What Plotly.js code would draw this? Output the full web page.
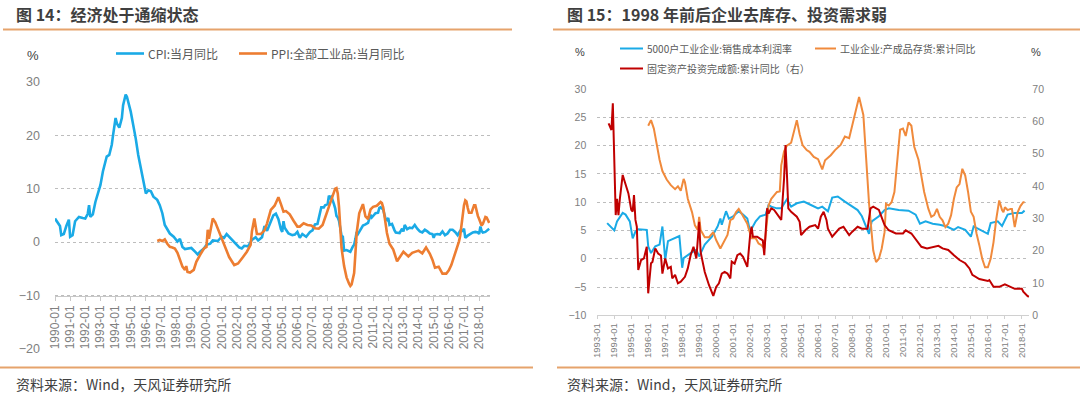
<!DOCTYPE html>
<html>
<head>
<meta charset="utf-8">
<script src="https://cdn.plot.ly/plotly-3.0.1.min.js"></script>
<style>
html,body{margin:0;padding:0;background:#fff;}
#chart{width:1080px;height:397px;}
</style>
</head>
<body>
<div id="chart"></div>
<script>
// ---------- Left chart: 图14 ----------
const cpiDates = ['1990-01','1990-03','1990-05','1990-06','1990-08','1990-10','1990-12','1991-01','1991-03','1991-05','1991-08','1991-11','1992-01','1992-03','1992-04','1992-05','1992-07','1992-09','1992-11','1993-01','1993-03','1993-05','1993-06','1993-08','1993-10','1993-11','1994-01','1994-02','1994-04','1994-06','1994-07','1994-09','1994-10','1995-01','1995-03','1995-04','1995-05','1995-07','1995-09','1995-11','1996-01','1996-03','1996-05','1996-07','1996-10','1996-12','1997-02','1997-04','1997-06','1997-08','1997-11','1998-02','1998-04','1998-06','1998-08','1998-11','1999-01','1999-04','1999-06','1999-08','1999-11','2000-01','2000-04','2000-06','2000-10','2001-01','2001-03','2001-05','2001-07','2001-10','2002-01','2002-03','2002-05','2002-07','2002-10','2003-01','2003-04','2003-06','2003-09','2003-11','2004-01','2004-04','2004-06','2004-08','2004-10','2004-12','2005-01','2005-02','2005-03','2005-06','2005-09','2005-11','2006-01','2006-03','2006-05','2006-08','2006-11','2007-01','2007-03','2007-05','2007-06','2007-07','2007-08','2007-10','2007-11','2008-01','2008-02','2008-03','2008-04','2008-06','2008-07','2008-08','2008-09','2008-10','2008-11','2008-12','2009-01','2009-02','2009-04','2009-06','2009-07','2009-09','2009-10','2009-11','2009-12','2010-01','2010-03','2010-05','2010-07','2010-09','2010-11','2010-12','2011-03','2011-05','2011-06','2011-07','2011-09','2011-11','2011-12','2012-01','2012-02','2012-04','2012-06','2012-07','2012-10','2012-12','2013-01','2013-02','2013-04','2013-06','2013-08','2013-10','2013-12','2014-02','2014-04','2014-06','2014-08','2014-10','2014-12','2015-01','2015-02','2015-04','2015-06','2015-08','2015-10','2015-12','2016-02','2016-04','2016-06','2016-08','2016-10','2016-12','2017-01','2017-02','2017-04','2017-06','2017-08','2017-10','2017-12','2018-01','2018-02','2018-03','2018-04','2018-06','2018-07','2018-08','2018-09'];
const cpiVals = [4.4,3.6,3.0,1.3,1.5,3.0,4.2,1.0,1.3,3.9,4.7,4.5,4.4,5.3,6.9,4.7,5.2,7.5,9.1,10.7,13.2,15.0,16.0,16.3,18.2,20.0,23.2,22.2,21.4,23.2,25.6,27.6,27.2,24.4,21.9,21.0,19.4,16.3,13.8,11.3,9.1,9.7,9.5,8.5,7.9,6.9,5.4,3.2,2.5,1.6,1.0,0.1,0.6,-0.9,-1.3,-1.2,-1.1,-1.8,-2.3,-1.8,-1.2,-0.5,-0.3,0.3,0.2,1.0,0.8,1.5,1.0,0.2,-0.5,-1.0,-1.2,-0.7,-0.8,0.4,0.9,0.3,0.9,3.0,2.1,3.8,5.0,5.3,4.3,2.4,1.9,3.9,2.7,1.6,1.3,1.4,1.9,0.8,1.5,1.0,1.9,2.2,3.3,3.4,4.4,5.6,6.5,6.5,6.9,7.1,8.7,8.3,8.5,7.1,6.3,4.9,4.6,4.0,2.4,1.2,1.0,-1.6,-1.5,-1.7,-1.8,-0.8,-0.5,0.6,1.9,1.5,2.4,3.1,3.3,3.6,5.1,4.6,5.4,5.5,6.4,6.5,6.1,4.2,4.1,4.5,3.2,3.4,2.2,1.8,1.7,2.5,2.0,3.2,2.4,2.7,2.6,3.2,2.5,2.0,1.8,2.3,2.0,1.6,1.5,0.8,1.4,1.5,1.4,2.0,1.3,1.6,2.3,2.3,1.9,1.3,2.1,2.1,2.5,0.8,1.2,1.5,1.8,1.9,1.8,1.5,2.9,2.1,1.8,1.9,2.1,2.3,2.5];

const ppiDates = ['1996-10','1996-12','1997-02','1997-04','1997-06','1997-08','1997-10','1997-12','1998-02','1998-04','1998-06','1998-08','1998-09','1998-10','1998-12','1999-03','1999-05','1999-08','1999-11','2000-01','2000-02','2000-03','2000-06','2000-08','2000-11','2001-03','2001-07','2001-11','2002-02','2002-06','2002-09','2002-12','2003-01','2003-03','2003-05','2003-08','2003-11','2004-01','2004-04','2004-07','2004-10','2004-12','2005-02','2005-04','2005-07','2005-10','2006-01','2006-03','2006-06','2006-09','2006-12','2007-03','2007-06','2007-09','2007-11','2008-01','2008-03','2008-05','2008-07','2008-08','2008-09','2008-10','2008-11','2008-12','2009-02','2009-04','2009-06','2009-07','2009-08','2009-09','2009-10','2009-11','2009-12','2010-02','2010-05','2010-07','2010-09','2010-11','2011-01','2011-04','2011-07','2011-08','2011-09','2011-10','2011-12','2012-02','2012-05','2012-08','2012-10','2013-01','2013-05','2013-08','2014-01','2014-04','2014-07','2014-10','2014-12','2015-02','2015-05','2015-08','2015-11','2016-01','2016-03','2016-05','2016-07','2016-09','2016-10','2016-11','2016-12','2017-01','2017-02','2017-03','2017-04','2017-05','2017-07','2017-08','2017-09','2017-10','2017-11','2017-12','2018-01','2018-02','2018-03','2018-04','2018-05','2018-06','2018-07','2018-08','2018-09'];
const ppiVals = [0.2,0.4,0.2,0.5,-0.3,-0.9,-1.0,-1.2,-2.0,-3.1,-4.6,-5.2,-4.5,-5.6,-5.7,-5.2,-3.7,-2.4,-1.2,-0.9,2.3,0.6,4.4,3.7,1.9,-0.4,-2.8,-4.3,-4.0,-2.8,-1.8,-0.5,2.0,4.4,1.5,1.5,2.2,3.5,6.0,6.8,8.4,7.1,5.7,5.8,5.2,4.0,2.9,2.9,3.5,3.2,3.1,2.6,2.5,3.2,4.6,6.1,7.5,8.8,10.0,10.1,9.1,6.6,2.0,-1.1,-4.5,-6.6,-7.8,-8.2,-7.9,-7.0,-5.8,-2.1,1.7,5.4,7.1,4.8,4.3,6.1,6.6,6.8,7.5,7.3,6.5,5.0,1.7,-0.3,-1.4,-3.6,-2.8,-1.8,-2.7,-2.0,-1.6,-2.1,-1.0,-2.2,-3.3,-4.8,-4.6,-5.9,-5.9,-5.3,-4.3,-2.8,-1.7,0.1,1.2,3.3,5.5,6.9,7.8,7.6,6.4,5.5,5.5,6.3,6.9,6.9,5.8,4.9,4.3,3.7,3.1,3.4,4.1,4.7,4.6,4.1,3.6];

// ---------- Right chart: 图15 ----------
const profitDates = ['1993-08','1993-11','1994-01','1994-03','1994-07','1994-09','1994-12','1995-02','1995-04','1995-06','1995-10','1995-12','1996-01','1996-03','1996-06','1996-09','1996-11','1997-01','1997-03','1997-07','1997-11','1998-01','1998-02','1998-07','1998-11','1999-01','1999-05','1999-10','2000-02','2000-04','2000-05','2000-08','2000-10','2001-01','2001-05','2001-08','2001-11','2002-01','2002-05','2002-08','2002-12','2003-02','2003-04','2003-08','2003-11','2004-03','2004-06','2004-10','2005-03','2005-08','2006-01','2006-04','2006-08','2006-11','2007-03','2007-08','2008-01','2008-05','2008-08','2008-12','2009-01','2009-03','2009-06','2009-08','2009-12','2010-03','2010-10','2011-05','2011-10','2012-01','2012-05','2012-10','2013-03','2013-08','2014-01','2014-04','2014-09','2015-01','2015-03','2015-08','2016-01','2016-03','2016-08','2016-11','2017-03','2017-08','2018-01','2018-03'];
const profitVals = [6.3,5.4,5.0,6.6,8.1,7.8,6.6,3.6,4.8,5.2,5.1,5.1,2.2,1.0,2.2,2.5,5.7,-0.2,3.1,3.6,4.0,-1.6,0.1,1.0,1.6,0.4,2.5,3.9,5.7,7.1,6.0,8.4,7.1,7.5,8.4,7.8,7.1,4.8,6.6,7.5,7.8,9.5,9.2,8.9,8.9,10.5,9.2,9.8,10.1,9.5,8.9,9.2,8.4,10.8,11.0,10.1,9.2,8.6,7.5,5.1,4.4,6.6,7.1,7.5,8.6,8.9,8.6,8.5,7.8,6.2,6.6,6.2,6.0,5.7,5.1,5.6,5.1,3.9,5.7,5.1,4.4,6.3,6.6,5.8,7.8,8.1,8.1,8.5];

const invDates = ['1996-01','1996-03','1996-05','1996-07','1996-09','1996-11','1997-02','1997-05','1997-08','1997-10','1997-12','1998-02','1998-03','1998-05','1998-08','1998-10','1998-12','1999-01','1999-02','1999-05','1999-08','1999-11','2000-01','2000-04','2000-06','2000-09','2000-11','2001-01','2001-03','2001-05','2001-07','2001-09','2001-11','2001-12','2002-02','2002-05','2002-07','2002-09','2002-11','2003-01','2003-02','2003-04','2003-08','2003-10','2003-11','2004-01','2004-03','2004-06','2004-08','2004-10','2004-12','2005-02','2005-05','2005-07','2005-10','2006-01','2006-04','2006-06','2006-10','2007-01','2007-05','2007-08','2007-11','2008-03','2008-06','2008-09','2008-11','2009-01','2009-04','2009-06','2009-08','2009-10','2009-12','2010-01','2010-03','2010-05','2010-07','2010-09','2010-11','2011-01','2011-03','2011-05','2011-07','2011-09','2011-12','2012-02','2012-04','2012-07','2012-09','2012-11','2013-01','2013-03','2013-05','2013-07','2013-09','2013-11','2014-01','2014-03','2014-05','2014-07','2014-09','2014-11','2015-01','2015-03','2015-05','2015-07','2015-09','2015-11','2016-01','2016-03','2016-05','2016-07','2016-09','2016-11','2016-12','2017-01','2017-03','2017-05','2017-06','2017-08','2017-10','2017-12','2018-02','2018-03','2018-04','2018-06'];
const invVals = [23.5,24.5,23.0,20.0,17.5,15.5,14.0,13.0,12.3,12.8,12.0,14.1,13.5,10.6,8.2,5.9,5.1,7.4,5.1,3.8,3.8,4.7,3.3,1.8,2.7,4.2,6.8,7.1,8.2,8.8,8.0,7.1,6.2,5.3,3.6,3.6,2.7,2.4,1.8,6.8,9.4,10.6,11.8,11.9,16.5,19.0,20.0,20.5,22.5,24.5,22.0,20.1,19.2,18.9,18.0,17.6,15.8,17.4,18.3,19.2,20.1,21.6,21.3,25.4,28.6,25.4,17.5,9.8,1.5,-0.6,0.0,1.8,4.7,9.7,9.4,10.0,11.8,17.0,22.8,23.0,21.7,24.1,23.5,19.8,17.5,14.6,11.8,8.8,7.4,7.7,8.8,7.4,6.8,5.6,6.2,7.7,10.6,12.6,13.2,15.9,14.7,11.8,8.3,7.4,4.5,2.4,0.0,-1.5,-1.5,0.0,2.9,7.1,10.3,8.6,8.2,9.1,8.6,8.8,8.8,5.6,8.2,9.3,10.0,10.0].slice(0);

const faiDates = ['1993-09','1993-10','1993-11','1993-12','1994-02','1994-03','1994-04','1994-05','1994-07','1994-08','1994-11','1995-01','1995-02','1995-03','1995-04','1995-05','1995-06','1995-08','1995-10','1995-12','1996-01','1996-03','1996-04','1996-06','1996-08','1996-10','1996-11','1997-01','1997-03','1997-05','1997-06','1997-08','1997-10','1997-12','1998-03','1998-05','1998-07','1998-09','1998-11','1999-01','1999-02','1999-03','1999-05','1999-08','1999-10','1999-11','2000-01','2000-03','2000-05','2000-07','2000-09','2000-11','2000-12','2001-02','2001-04','2001-06','2001-08','2001-11','2002-01','2002-02','2002-03','2002-06','2002-08','2002-10','2002-11','2003-01','2003-02','2003-04','2003-06','2003-09','2003-11','2004-01','2004-02','2004-03','2004-04','2004-06','2004-10','2004-12','2005-01','2005-04','2005-07','2005-11','2006-01','2006-03','2006-05','2006-07','2006-08','2006-11','2007-01','2007-04','2007-07','2007-11','2008-01','2008-05','2008-08','2008-12','2009-02','2009-04','2009-08','2009-12','2010-03','2010-08','2011-01','2011-03','2011-07','2011-11','2012-02','2012-06','2012-11','2013-02','2013-05','2013-09','2014-01','2014-05','2014-09','2014-12','2015-02','2015-07','2016-01','2016-02','2016-05','2016-09','2017-01','2017-05','2017-08','2018-01','2018-02','2018-05','2018-06'];
const faiVals = [59.4,58.0,57.3,65.6,31.0,36.0,31.0,36.0,43.4,41.9,37.7,32.6,32.1,37.2,29.5,27.4,14.0,17.1,17.6,21.2,6.8,16.1,16.5,20.7,19.1,18.5,12.9,17.6,14.5,15.0,11.4,12.5,9.9,10.4,11.9,14.5,18.6,21.2,17.6,28.9,19.6,17.6,13.4,9.3,7.3,6.0,8.8,9.9,12.9,13.4,12.9,11.4,16.6,16.0,18.6,19.1,18.1,15.0,24.8,27.4,24.3,24.3,23.7,23.2,18.6,33.1,31.5,33.1,32.6,30.5,29.5,42.4,52.7,44.0,33.1,32.0,30.5,28.9,24.8,26.3,27.4,27.9,26.8,30.5,32.0,29.5,26.8,24.3,25.3,26.8,27.4,24.8,25.8,27.4,26.8,26.8,33.1,33.6,32.6,27.9,26.3,25.3,25.3,26.3,25.3,22.8,21.2,20.7,21.2,21.5,20.7,20.2,18.6,17.1,16.1,14.5,12.5,11.2,10.6,10.9,8.8,8.8,9.6,8.8,8.2,8.2,7.3,6.0,5.7];

// legend / titles text
const title14 = '图 14：经济处于通缩状态';
const title15 = '图 15：1998 年前后企业去库存、投资需求弱';
const nameCPI = 'CPI:当月同比';
const namePPI = 'PPI:全部工业品:当月同比';
const nameProfit = '5000户工业企业:销售成本利润率';
const nameInv = '工业企业:产成品存货:累计同比';
const nameFAI = '固定资产投资完成额:累计同比（右）';
const sourceText = '资料来源：Wind，天风证券研究所';

// ---------- layout helpers ----------
const W = 1080, H = 397;
const px = x => x / W;
const py = y => 1 - y / H;

const cBlue = '#1AAAE6', cOrange = '#ED7D31', cRed = '#C00000', cLine = '#E6A36C';
const tickGray = '#808080';
const cjk = '"Noto Sans CJK SC", "Noto Sans", sans-serif';
const latin = '"Liberation Sans", Arial, sans-serif';

const traces = [
  {x: cpiDates, y: cpiVals, xaxis: 'x', yaxis: 'y', type: 'scatter', mode: 'lines', line: {color: cBlue, width: 2.6}, name: nameCPI},
  {x: ppiDates, y: ppiVals, xaxis: 'x', yaxis: 'y', type: 'scatter', mode: 'lines', line: {color: cOrange, width: 2.6}, name: namePPI},
  {x: profitDates, y: profitVals, xaxis: 'x2', yaxis: 'y2', type: 'scatter', mode: 'lines', line: {color: cBlue, width: 2}, name: nameProfit},
  {x: invDates, y: invVals, xaxis: 'x2', yaxis: 'y2', type: 'scatter', mode: 'lines', line: {color: '#F08A3C', width: 2}, name: nameInv},
  {x: faiDates, y: faiVals, xaxis: 'x2', yaxis: 'y3', type: 'scatter', mode: 'lines', line: {color: cRed, width: 2}, name: nameFAI}
];

const layout = {
  width: W, height: H, autosize: false,
  margin: {l: 0, r: 0, t: 0, b: 0, pad: 0},
  paper_bgcolor: '#ffffff', plot_bgcolor: 'rgba(0,0,0,0)',
  showlegend: false,
  xaxis: {
    domain: [px(55), px(490)], type: 'date', range: ['1990-01-01', '2018-09-20'],
    anchor: 'free', position: py(295.5),
    showline: true, linecolor: '#C8C8C8', linewidth: 1,
    ticks: 'outside', ticklen: 4, tickcolor: '#C8C8C8',
    tick0: '1990-01-01', dtick: 'M12', tickformat: '%Y-%m', tickangle: -90,
    tickfont: {family: latin, size: 12, color: tickGray},
    showgrid: false, zeroline: false
  },
  yaxis: {
    domain: [py(349), py(81.7)], range: [-20, 30], dtick: 10, anchor: 'x',
    showgrid: true, gridcolor: '#BDBDBD', griddash: 'dot', gridwidth: 1,
    zeroline: false, showline: false, ticks: '',
    ticklabelstandoff: 14,
    tickfont: {family: latin, size: 12.5, color: tickGray}
  },
  xaxis2: {
    domain: [px(597.3), px(1029.3)], type: 'date', range: ['1993-01-01', '2018-06-10'],
    anchor: 'y2',
    showline: true, linecolor: '#D0D0D0', linewidth: 1,
    ticks: 'outside', ticklen: 3, tickcolor: '#D0D0D0',
    tick0: '1993-01-01', dtick: 'M12', tickformat: '%Y-%m', tickangle: -90,
    tickfont: {family: latin, size: 9.5, color: tickGray},
    showgrid: false, zeroline: false
  },
  yaxis2: {
    domain: [py(315.3), py(89)], range: [-10, 30], dtick: 5, anchor: 'x2',
    showgrid: true, gridcolor: '#BDBDBD', griddash: 'dot', gridwidth: 1,
    zeroline: false, showline: false, ticks: '',
    ticklabelstandoff: 10,
    tickfont: {family: latin, size: 10.5, color: tickGray}
  },
  yaxis3: {
    domain: [py(315.3), py(89)], range: [0, 70], dtick: 10, anchor: 'x2',
    overlaying: 'y2', side: 'right',
    showgrid: false, zeroline: false, showline: false, ticks: '',
    ticklabelstandoff: 2,
    tickfont: {family: latin, size: 10.5, color: tickGray}
  },
  shapes: [
    // title underlines
    {type: 'line', xref: 'paper', yref: 'paper', x0: px(3), x1: px(512), y0: py(29.5), y1: py(29.5), line: {color: cLine, width: 2}},
    {type: 'line', xref: 'paper', yref: 'paper', x0: px(553), x1: px(1080), y0: py(29.5), y1: py(29.5), line: {color: cLine, width: 2}},
    // footer lines
    {type: 'line', xref: 'paper', yref: 'paper', x0: px(0), x1: px(533), y0: py(367.5), y1: py(367.5), line: {color: cLine, width: 2}},
    {type: 'line', xref: 'paper', yref: 'paper', x0: px(557), x1: px(1080), y0: py(367.5), y1: py(367.5), line: {color: cLine, width: 2}},
    // left legend samples
    {type: 'line', xref: 'paper', yref: 'paper', x0: px(116), x1: px(144), y0: py(53.5), y1: py(53.5), line: {color: cBlue, width: 2.6}},
    {type: 'line', xref: 'paper', yref: 'paper', x0: px(239), x1: px(267), y0: py(53.5), y1: py(53.5), line: {color: cOrange, width: 2.6}},
    // right legend samples
    {type: 'line', xref: 'paper', yref: 'paper', x0: px(620), x1: px(643), y0: py(48.5), y1: py(48.5), line: {color: cBlue, width: 2}},
    {type: 'line', xref: 'paper', yref: 'paper', x0: px(815), x1: px(836), y0: py(48.5), y1: py(48.5), line: {color: '#F08A3C', width: 2}},
    {type: 'line', xref: 'paper', yref: 'paper', x0: px(620), x1: px(643), y0: py(68.5), y1: py(68.5), line: {color: cRed, width: 2}}
  ],
  annotations: [
    {xref: 'paper', yref: 'paper', x: px(14), y: py(14), xanchor: 'left', yanchor: 'middle', showarrow: false,
     text: '<b>' + title14 + '</b>', font: {family: cjk, size: 16, color: '#3F3F3F'}},
    {xref: 'paper', yref: 'paper', x: px(565), y: py(14), xanchor: 'left', yanchor: 'middle', showarrow: false,
     text: '<b>' + title15 + '</b>', font: {family: cjk, size: 16, color: '#3F3F3F'}},
    {xref: 'paper', yref: 'paper', x: px(146), y: py(53.5), xanchor: 'left', yanchor: 'middle', showarrow: false,
     text: nameCPI, font: {family: cjk, size: 12, color: '#595959'}},
    {xref: 'paper', yref: 'paper', x: px(269), y: py(53.5), xanchor: 'left', yanchor: 'middle', showarrow: false,
     text: namePPI, font: {family: cjk, size: 12, color: '#595959'}},
    {xref: 'paper', yref: 'paper', x: px(645), y: py(48.5), xanchor: 'left', yanchor: 'middle', showarrow: false,
     text: nameProfit, font: {family: cjk, size: 10, color: '#595959'}},
    {xref: 'paper', yref: 'paper', x: px(838), y: py(48.5), xanchor: 'left', yanchor: 'middle', showarrow: false,
     text: nameInv, font: {family: cjk, size: 10, color: '#595959'}},
    {xref: 'paper', yref: 'paper', x: px(645), y: py(68.5), xanchor: 'left', yanchor: 'middle', showarrow: false,
     text: nameFAI, font: {family: cjk, size: 10, color: '#595959'}},
    {xref: 'paper', yref: 'paper', x: px(33), y: py(56), xanchor: 'center', yanchor: 'middle', showarrow: false,
     text: '%', font: {family: latin, size: 13, color: '#404040'}},
    {xref: 'paper', yref: 'paper', x: px(580), y: py(52), xanchor: 'center', yanchor: 'middle', showarrow: false,
     text: '%', font: {family: latin, size: 11, color: '#404040'}},
    {xref: 'paper', yref: 'paper', x: px(1036), y: py(52), xanchor: 'center', yanchor: 'middle', showarrow: false,
     text: '%', font: {family: latin, size: 11, color: '#404040'}},
    {xref: 'paper', yref: 'paper', x: px(14), y: py(384), xanchor: 'left', yanchor: 'middle', showarrow: false,
     text: sourceText, font: {family: cjk, size: 14, color: '#404040'}},
    {xref: 'paper', yref: 'paper', x: px(565), y: py(384), xanchor: 'left', yanchor: 'middle', showarrow: false,
     text: sourceText, font: {family: cjk, size: 14, color: '#404040'}}
  ]
};

Plotly.newPlot('chart', traces, layout, {staticPlot: true, displayModeBar: false});
</script>
</body>
</html>
